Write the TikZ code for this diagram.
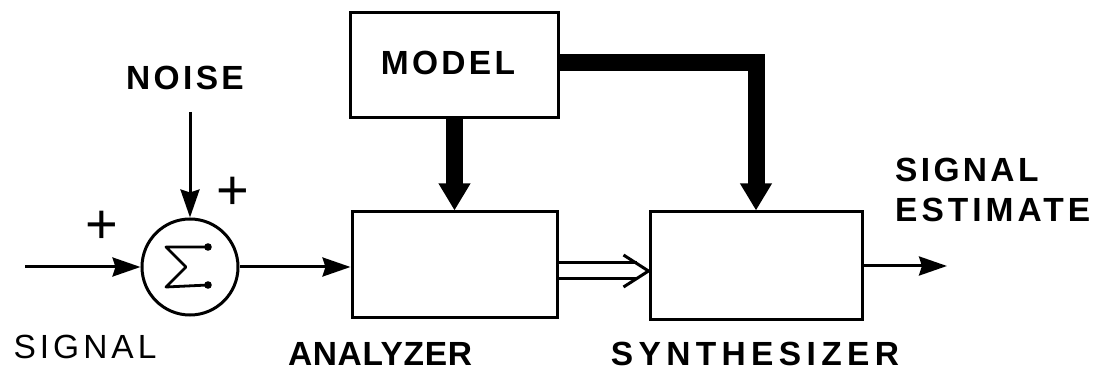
\documentclass[tikz,border=0pt]{standalone}
\usepackage{fontspec}
\newfontfamily\lettering{Liberation Sans}[LetterSpace=10]
\usetikzlibrary{arrows.meta,calc}

\tikzset{
  box/.style={draw, line width=3pt, rectangle, inner sep=0pt},
  lbl/.style={font=\lettering\bfseries\fontsize{33.5}{39}\selectfont, inner sep=0pt, anchor=base},
  plus/.style={font=\fontspec{Liberation Sans}\fontsize{56}{56}\selectfont, inner sep=0pt},
  signal/.style={line width=3pt, -{Stealth[length=28pt,width=19pt,inset=3pt]}},
  bus/.style={line width=17pt, line join=miter, -{Triangle[length=27pt,width=30pt]}},
}

\begin{document}
\begin{tikzpicture}[x=1pt, y=-1pt]
  \useasboundingbox (0,0) rectangle (1104,371);

  % blocks
  \node[box, minimum width=208pt, minimum height=105pt] (model) at (454,65.5) {};
  \node[box, minimum width=205pt, minimum height=106pt] (analyzer) at (454.5,265) {};
  \node[box, minimum width=212pt, minimum height=108pt] (synth) at (756,266) {};
  \node[circle, draw, line width=3pt, minimum size=96pt, inner sep=0pt] (sum) at (190,267) {};

  % summing symbol
  \draw[line width=2.8pt, line join=round, line cap=round]
    ($(sum)+(18pt,20pt)$) -- ($(sum)+(-24pt,20pt)$) -- ($(sum)+(-4pt,0pt)$)
    -- ($(sum)+(-24pt,-20pt)$) -- ($(sum)+(18pt,-18pt)$);
  \fill ($(sum)+(18pt,20pt)$) circle (3.8pt);
  \fill ($(sum)+(18pt,-18pt)$) circle (3.8pt);

  % labels
  \node[lbl] (modeltxt) at (448,75) {MODEL};
  \node[lbl] (noisetxt) at (185,90) {NOISE};
  \node[lbl] (sigtxt) at (85,359) {\mdseries\addfontfeatures{LetterSpace=12}SIGNAL};
  \node[lbl] (anatxt) at (380,366) {\addfontfeatures{LetterSpace=2}ANALYZER};
  \node[lbl] (syntxt) at (755,366) {\addfontfeatures{LetterSpace=16}SYNTHESIZER};
  \node[lbl, anchor=base west] (esttxt1) at (895,182) {SIGNAL};
  \node[lbl, anchor=base west] (esttxt2) at (895,222) {\addfontfeatures{LetterSpace=12}ESTIMATE};
  \node[plus] (plus1) at (102,227) {+};
  \node[plus] (plus2) at (233,193) {+};

  % free ends
  \coordinate (in) at (25,267);
  \coordinate (noisein) at (190,112);
  \coordinate (out) at (947,266);

  % signal paths
  \draw[signal] (in) -- (sum.west);
  \draw[signal] (noisein) -- (sum.north);
  \draw[signal] (sum.east) -- (sum.east -| analyzer.west);
  \draw[signal] (synth.east) -- (out);

  % model parameters
  \draw[bus] (model.south -| analyzer.north) -- (analyzer.north);
  \draw[bus] ([yshift=3pt]model.east) -| (synth.north);

  % parameter transfer (double arrow)
  \coordinate (dA) at ([yshift=-6pt]analyzer.east);
  \coordinate (dB) at (dA -| synth.west);
  \draw[line width=3pt, double, double distance=13pt] (dA) -- ([xshift=-12pt]dB);
  \draw[line width=3pt, line join=miter]
    ([shift={(-25pt,16pt)}]dB) -- (dB) -- ([shift={(-25pt,-16pt)}]dB);
\end{tikzpicture}
\end{document}
